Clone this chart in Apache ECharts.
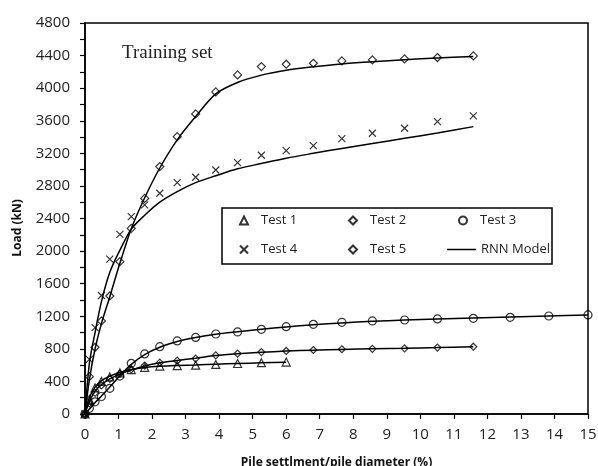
<!DOCTYPE html>
<html>
<head>
<meta charset="utf-8">
<script src="https://cdn.jsdelivr.net/npm/echarts@6/dist/echarts.min.js"></script>
<style>html,body{margin:0;padding:0;background:#fff;}#c{width:598px;height:466px;}</style>
</head>
<body>
<div id="c"></div>
<script>
// Pile settlment / pile diameter (%) — shared measurement points
var settlement = [0, 0.13, 0.3, 0.49, 0.74, 1.04, 1.38, 1.78, 2.23, 2.75, 3.3, 3.9, 4.55, 5.26, 6.0, 6.81, 7.66, 8.57, 9.53, 10.51, 11.58, 12.68, 13.83, 15.0];
// Measured loads (kN)
var test1 = [0, 180, 320, 400, 455, 505, 545, 573, 588, 594, 600, 608, 620, 630, 638];
var test2 = [0, 130, 260, 350, 430, 495, 548, 595, 630, 655, 680, 720, 742, 760, 774, 786, 795, 800, 806, 815, 826];
var test3 = [0, 70, 150, 215, 315, 465, 622, 737, 827, 897, 940, 982, 1007, 1040, 1072, 1101, 1126, 1142, 1154, 1167, 1175, 1187, 1203, 1216];
var test4 = [0, 670, 1060, 1455, 1902, 2205, 2423, 2567, 2710, 2841, 2906, 2996, 3086, 3176, 3233, 3295, 3381, 3447, 3508, 3590, 3660];
var test5 = [0, 458, 819, 1142, 1449, 1870, 2278, 2647, 3037, 3405, 3684, 3954, 4163, 4265, 4294, 4306, 4335, 4347, 4359, 4376, 4396];
// RNN model predictions (kN)
var rnn1 = [0, 200, 330, 410, 465, 510, 545, 570, 585, 595, 603, 612, 620, 628, 636];
var rnn2 = [0, 150, 280, 360, 430, 490, 540, 590, 628, 657, 685, 718, 740, 758, 772, 784, 793, 800, 807, 815, 826];
var rnn3 = [0, 60, 140, 220, 330, 470, 610, 730, 820, 890, 940, 980, 1010, 1040, 1068, 1095, 1118, 1138, 1153, 1166, 1178, 1190, 1203, 1216];
var rnn4 = [0, 620, 1000, 1380, 1740, 2010, 2270, 2440, 2600, 2730, 2840, 2925, 3010, 3075, 3140, 3200, 3260, 3320, 3385, 3450, 3528];
var rnn5 = [0, 420, 800, 1110, 1440, 1850, 2275, 2655, 3020, 3365, 3651, 3930, 4070, 4160, 4220, 4262, 4298, 4325, 4350, 4370, 4388];
var yTicks = [0, 400, 800, 1200, 1600, 2000, 2400, 2800, 3200, 3600, 4000, 4400, 4800];
var xTicks = [0, 1, 2, 3, 4, 5, 6, 7, 8, 9, 10, 11, 12, 13, 14, 15];

function pairs(ys) { return ys.map(function (v, i) { return [settlement[i], v]; }); }

var chart = echarts.init(document.getElementById('c'), null, {renderer: 'canvas'});
var FONT = '"Open Sans", sans-serif';
var lineSeries = [rnn1, rnn2, rnn3, rnn4, rnn5].map(function (d) {
  return {
    name: 'RNN Model', type: 'line', data: pairs(d), smooth: 0.3,
    symbol: 'none', showSymbol: false, lineStyle: {color: '#000', width: 1.5}, itemStyle: {color: '#000'}, z: 2, silent: true
  };
});
function scat(name, d, symbol, size) {
  return {
    name: name, type: 'scatter', data: pairs(d), symbol: symbol, symbolSize: size,
    itemStyle: {color: 'rgba(255,255,255,0)', borderColor: '#000', borderWidth: 1.2}, z: 3, silent: true
  };
}
var XPATH = 'path://M0,0L10,10M10,0L0,10';
var series = lineSeries.concat([
  scat('Test 1', test1, 'triangle', 8),
  scat('Test 2', test2, 'diamond', 7),
  scat('Test 3', test3, 'circle', 8),
  scat('Test 4', test4, XPATH, 7),
  scat('Test 5', test5, 'diamond', 8)
]);
function leg(item, left, top, w, h, padLeft) {
  return {
    data: [item], left: left, top: top, padding: 0, itemWidth: w, itemHeight: h,
    selectedMode: false, textStyle: {fontFamily: FONT, fontSize: 13, color: '#222', padding: [0, 0, 0, padLeft]}, z: 5
  };
}
var option = {
  animation: false,
  backgroundColor: '#fff',
  grid: {left: 85, right: 10, top: 23, bottom: 52, show: true, borderColor: '#000', borderWidth: 1.5, outerBoundsMode: 'none', containLabel: false},
  xAxis: {
    type: 'value', min: 0, max: 15, interval: 1,
    name: 'Pile settlment/pile diameter (%)', nameLocation: 'middle', nameGap: 43,
    nameTextStyle: {fontFamily: FONT, fontSize: 12, fontWeight: 'bold', color: '#111'},
    axisLine: {lineStyle: {color: '#000', width: 1.5}},
    axisTick: {show: true, inside: false, length: 5, lineStyle: {color: '#000', width: 1.2}},
    splitLine: {show: false},
    axisLabel: {fontFamily: FONT, fontSize: 15, color: '#222', margin: 13,
      formatter: function (v) { return xTicks.indexOf(v) >= 0 ? String(v) : ''; }}
  },
  yAxis: {
    type: 'value', min: 0, max: 4800, interval: 400,
    axisLine: {show: true, lineStyle: {color: '#000', width: 1.5}},
    axisTick: {show: true, inside: false, length: 5, lineStyle: {color: '#000', width: 1.2}},
    minorTick: {show: true, splitNumber: 2, length: 5, lineStyle: {color: '#000', width: 1.2}},
    splitLine: {show: false},
    axisLabel: {fontFamily: FONT, fontSize: 15, color: '#222', margin: 15,
      formatter: function (v) { return yTicks.indexOf(v) >= 0 ? String(v) : ''; }}
  },
  legend: [
    leg({name: 'Test 1', icon: 'triangle'}, 239, 214, 8, 8, 8),
    leg({name: 'Test 2', icon: 'diamond'}, 348, 214, 8, 8, 8),
    leg({name: 'Test 3', icon: 'circle'}, 458, 214, 8, 8, 8),
    leg({name: 'Test 4', icon: XPATH}, 239, 243, 8, 8, 8),
    leg({name: 'Test 5', icon: 'diamond'}, 348, 243, 8, 8, 8),
    leg({name: 'RNN Model', icon: 'rect', itemStyle: {color: '#000', borderWidth: 0}}, 447, 243, 29, 1.5, 0)
  ],
  graphic: [
    {type: 'rect', shape: {x: 222, y: 208, width: 330, height: 56}, style: {fill: '#fff', stroke: '#000', lineWidth: 1.5}, z: 4, silent: true},
    {type: 'text', x: 122, y: 53, style: {text: 'Training set', font: '19px "Liberation Serif", "Times New Roman", serif', fill: '#222', verticalAlign: 'middle'}, z: 5, silent: true},
    {type: 'text', x: 18, y: 228, rotation: Math.PI / 2, style: {text: 'Load (kN)', font: 'bold 12px "Open Sans", sans-serif', fill: '#111', align: 'center', verticalAlign: 'middle'}, z: 5, silent: true}
  ],
  series: series
};
chart.setOption(option);
</script>
</body>
</html>
